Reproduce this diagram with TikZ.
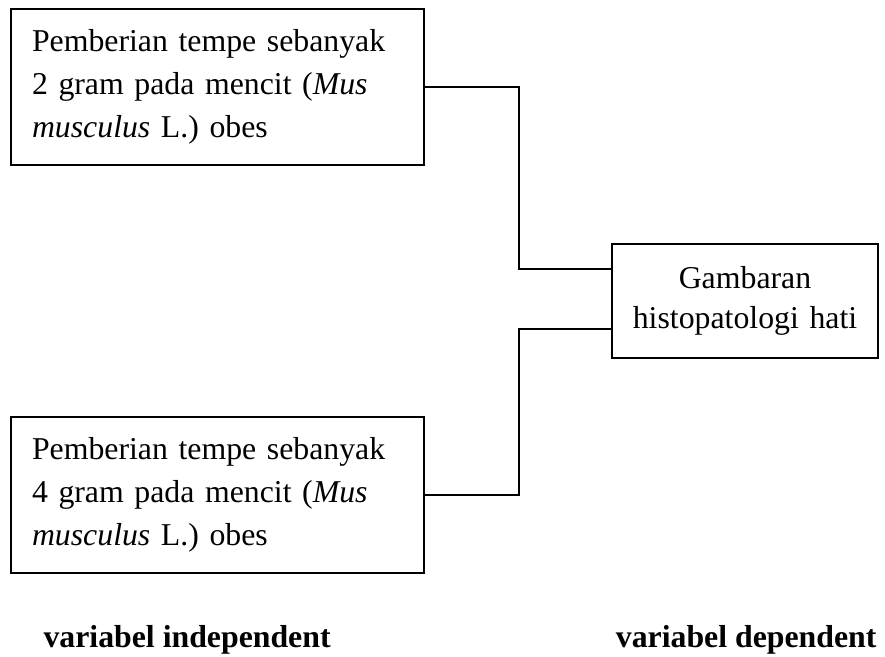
\documentclass[tikz,border=0pt]{standalone}
\usepackage{fontspec}
\setmainfont{Liberation Serif}
\usetikzlibrary{positioning}
\tikzset{
  varbox/.style   = {shape=rectangle, draw, line width=0.7pt,
                     align=left, text width=140pt, inner xsep=7.9pt,
                     minimum height=58.9pt,
                     font=\fontsize{12}{16.2}\selectfont},
  hasilbox/.style = {varbox, align=center, text width=90.4pt,
                     inner xsep=5pt, minimum height=43pt,
                     font=\fontsize{12}{15.1}\selectfont},
  judul/.style    = {inner sep=0pt, font=\fontsize{12}{15.1}\selectfont\bfseries},
  link/.style     = {draw, line width=0.7pt}
}

\begin{document}
\begin{tikzpicture}
  [
    x = 0.3774pt,
    y = -0.3774pt
  ]
  \useasboundingbox (0,0) rectangle (885,657);

  \node [varbox]   (tempe2) at (217.5,87)  {Pemberian tempe sebanyak\\
                                            2 gram pada mencit (\textit{Mus}\\
                                            \textit{musculus} L.) obes};
  \node [varbox]   (tempe4) at (217.5,495) {Pemberian tempe sebanyak\\
                                            4 gram pada mencit (\textit{Mus}\\
                                            \textit{musculus} L.) obes};
  \node [hasilbox] (hati)   at (745,301)   {Gambaran\\ histopatologi hati};

  \draw [link] (tempe2.east) -- ++(94,0) |- ([yshift=12pt]hati.west);
  \draw [link] (tempe4.east) -- ++(94,0) |- ([yshift=-10.6pt]hati.west);

  \node [judul, anchor=base west] (indep) at (43,648)  {variabel independent};
  \node [judul, anchor=base east] (dep)   at (877,648) {variabel dependent};
\end{tikzpicture}
\end{document}
